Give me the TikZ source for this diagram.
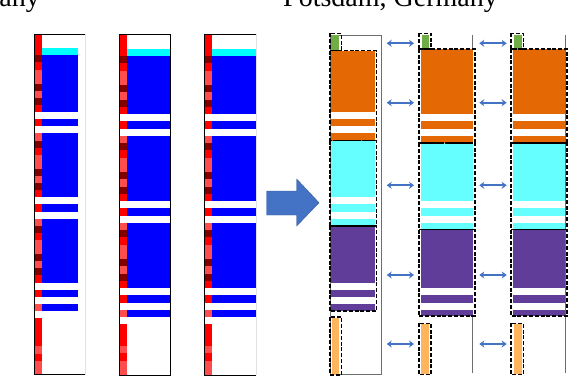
\documentclass[tikz,border=0pt]{standalone}
\usepackage{fontspec}
\setmainfont{Liberation Serif}
\usetikzlibrary{arrows.meta}
\definecolor{cR}{RGB}{255,0,0}
\definecolor{cL}{RGB}{255,77,77}
\definecolor{cD}{RGB}{128,0,0}
\definecolor{cW}{RGB}{255,255,255}
\definecolor{cyanc}{RGB}{0,255,255}
\definecolor{bluec}{RGB}{0,0,255}
\definecolor{orangec}{RGB}{228,104,4}
\definecolor{lcyan}{RGB}{102,255,255}
\definecolor{purplec}{RGB}{96,61,153}
\definecolor{greenc}{RGB}{112,173,71}
\definecolor{lorange}{RGB}{255,181,94}
\definecolor{arrowblue}{RGB}{68,114,196}
\definecolor{framegrey}{RGB}{110,110,110}
\definecolor{lightgrey}{RGB}{225,225,225}
\newcommand\mkleftcol[7]{%
  \foreach \c [count=\i from 0] in {#7} {\fill[c\c] (#1,{#5+\i*#6}) rectangle (#2,{#5+(\i+1)*#6});}
  \fill[cyanc] (#2,{#5+2*#6}) rectangle (#3,{#5+3*#6});
  \foreach \a/\b in {3/11,12/13,14/23,24/25,26/35,36/37,38/39}
    \fill[bluec] (#2,{#5+\a*#6}) rectangle (#3,{#5+\b*#6});
}
\begin{document}
\begin{tikzpicture}[x=1pt,y=-1pt,
  titletext/.style={inner sep=0pt,font=\fontsize{28}{30}\selectfont},
  dbox/.style={draw=black,line width=1.6pt,dash pattern=on 4pt off 1.8pt},
  blackframe/.style={draw=black,line width=1pt},
  greyframe/.style={draw=framegrey,line width=0.9pt},
  dblarrow/.style={draw=arrowblue,line width=1.9pt,
    {Stealth[length=5pt,width=7pt]}-{Stealth[length=5pt,width=7pt]}},
  bigarrow/.style={fill=arrowblue,draw=arrowblue!80!black,line width=0.4pt}]
\useasboundingbox (0,0) rectangle (568,376);
\fill[white] (0,0) rectangle (568,376);

% titles
\node[titletext,anchor=base east] (t1) at (40,6.5) {any};
\node[titletext,anchor=base west] (t2) at (283,6.5) {Potsdam, Germany};

% left columns
\mkleftcol{34.5}{42}{78}{85}{34}{7.1}{R,R,R,D,R,L,L,D,L,D,R,W,R,W,L,D,R,L,L,D,L,D,R,W,R,W,L,D,R,L,L,D,L,D,R,W,R,W,L,W,R,R,R,R,L,R,L,L}
\draw[lightgrey,line width=0.8pt] (85,34) -- (85,374.8);
\draw[blackframe] (85,34) -- (34,34) -- (34,374.8) -- (85,374.8);

\mkleftcol{119.8}{127}{170.3}{170.3}{34.3}{7.25}{R,R,R,D,R,L,L,D,L,D,R,W,R,W,L,D,R,L,L,D,L,D,R,W,R,W,L,D,R,L,L,D,L,D,R,W,R,W,L,W,R,R,R,L,R,L,L}
\draw[blackframe] (119.3,34.3) rectangle (170.3,375);

\mkleftcol{205.2}{212}{256}{256}{34.3}{7.25}{R,R,R,D,R,L,L,D,L,D,R,W,R,W,L,D,R,L,L,D,L,D,R,W,R,W,L,D,R,L,L,D,L,D,R,W,R,W,L,W,R,R,R,L,R,L,L}
\draw[lightgrey,line width=0.8pt] (256,34.3) -- (256,375);
\draw[blackframe] (256,34.3) -- (204.7,34.3) -- (204.7,375) -- (256,375);

% big arrow
\path[bigarrow] (266.7,191) -- (296.7,191) -- (296.7,179) -- (319,202.7)
  -- (296.7,226) -- (296.7,215) -- (266.7,215) -- cycle;

% right column A
\draw[greyframe] (330,35.3) rectangle (381.3,374.3);
\fill[greenc] (331,35.3) rectangle (338.7,50.5);
\fill[orangec] (331,50.5) rectangle (374.5,140.5);
\fill[white] (331,112.1) rectangle (374.5,119.2);
\fill[white] (331,126.3) rectangle (374.5,133.4);
\fill[lcyan] (331,141) rectangle (374.5,225.7);
\fill[white] (331,197.3) rectangle (374.5,204.4);
\fill[white] (331,211.5) rectangle (374.5,218.6);
\fill[purplec] (331,225.7) rectangle (375,310.9);
\fill[white] (331,282.5) rectangle (375,289.6);
\fill[white] (331,296.7) rectangle (375,303.8);
\fill[lorange] (331.7,318) rectangle (339.3,374.8);
\draw[dbox] (329.7,33.3) rectangle (341.3,50.5);
\draw[dbox] (329.7,50.5) rectangle (376.3,140.5);
\draw[dbox] (329.7,140.5) rectangle (376.3,225.7);
\draw[dbox] (329.7,225.7) rectangle (376.3,311);
\draw[dbox] (329.7,317) rectangle (341.3,374.8);

% right columns B and C
\foreach \s in {0,92.3} {
\begin{scope}[xshift=\s pt]
\draw[greyframe] (472.7,35) -- (472.7,373.3);
\fill[greenc] (421.7,35.3) rectangle (429.3,48.5);
\fill[orangec] (420.7,48.8) rectangle (472.7,142.5);
\fill[white] (420.7,114.05) rectangle (472.7,121.3);
\fill[white] (420.7,128.55) rectangle (472.7,135.8);
\fill[lcyan] (420.7,143) rectangle (472.7,229.5);
\fill[white] (420.7,201.05) rectangle (472.7,208.3);
\fill[white] (420.7,215.55) rectangle (472.7,222.8);
\fill[purplec] (420.7,229.5) rectangle (472.7,316);
\fill[white] (420.7,288.05) rectangle (472.7,295.3);
\fill[white] (420.7,302.55) rectangle (472.7,309.8);
\fill[lorange] (421.2,324.3) rectangle (429.3,373.5);
\draw[dbox] (418.7,33.3) rectangle (431,48.7);
\draw[dbox] (418.7,48.7) rectangle (474.7,143);
\draw[dbox] (418.7,143) rectangle (474.7,229.5);
\draw[dbox] (418.7,229.5) rectangle (474.7,316);
\draw[dbox] (418.7,323.3) rectangle (431,374.5);
\end{scope}}

% double arrows
\foreach \y [count=\k] in {43.3,102.7,185.3,275,344} {
  \coordinate (aL\k) at (386.7,\y);
  \coordinate (aR\k) at (414,\y);
  \coordinate (bL\k) at (479.3,\y);
  \coordinate (bR\k) at (506.7,\y);
  \draw[dblarrow] (aL\k) -- (aR\k);
  \draw[dblarrow] (bL\k) -- (bR\k);
}
\end{tikzpicture}
\end{document}
